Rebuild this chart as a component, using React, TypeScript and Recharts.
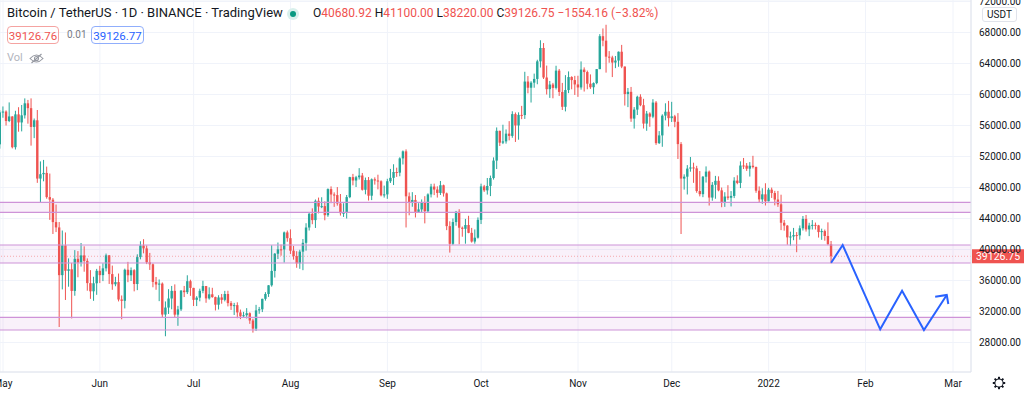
import React from "react";
import {
  ComposedChart,
  Bar,
  Line,
  XAxis,
  YAxis,
  CartesianGrid,
  ReferenceArea,
  ReferenceLine,
} from "recharts";

const UP = "#26a69a";
const DOWN = "#ef5350";
const ZONE = "#ce93d8";
const BLUE = "#2962ff";
const FONT = "-apple-system, BlinkMacSystemFont, 'Trebuchet MS', Roboto, Ubuntu, sans-serif";

// daily candles, 30 Apr 2021 .. 21 Jan 2022 (day index -1 .. 265, 0 = 1 May)
const firstOpen = 53568;
const closes = [
  57694,
  // May
  57800, 56578, 57170, 53200, 57436, 56393, 57314, 58862, 58240, 55816, 56670, 49150, 49716, 49880, 46760, 46430,
  43538, 42849, 36690, 40526, 37252, 37449, 34655, 38796, 38324, 39241, 38529, 35663, 34605, 35641, 37253,
  // Jun
  36693, 37568, 39246, 36829, 35513, 35796, 33552, 33380, 37388, 36675, 37331, 35546, 39020, 40516, 40144,
  38349, 38092, 35819, 35484, 35600, 31608, 32509, 33678, 34663, 31594, 32275, 34700, 34494, 35911, 35045,
  // Jul
  33504, 33786, 34669, 35286, 33690, 34220, 33862, 32875, 33815, 33502, 34259, 33086, 32730, 32820, 31880, 31383,
  31520, 31778, 30839, 29790, 32144, 32287, 33634, 34258, 35381, 37237, 39457, 40019, 40016, 42206, 41461,
  // Aug
  39845, 39147, 38207, 39723, 40862, 42836, 44614, 43792, 46285, 45543, 45595, 44428, 47793, 47096, 47019, 45936,
  44686, 44741, 46762, 49339, 48905, 49321, 49546, 47706, 48960, 46942, 49058, 48902, 48807, 46991, 47112,
  // Sep
  48810, 49246, 49999, 49915, 51756, 52663, 46863, 46048, 46395, 44850, 45173, 46025, 44940, 47111, 48122,
  47737, 47299, 48292, 47241, 43016, 40734, 43543, 44865, 42810, 42670, 43160, 42147, 41026, 41524, 43824,
  // Oct
  48141, 47634, 48200, 49224, 51471, 55315, 53785, 53951, 54949, 54659, 57471, 56005, 57367, 57347, 61672, 60875,
  61528, 62009, 64280, 66002, 62194, 60688, 61286, 60852, 63078, 60328, 58413, 60575, 62253, 61859, 61300,
  // Nov
  60911, 63219, 62896, 61395, 60937, 61470, 63273, 67525, 66947, 64882, 64774, 64122, 64380, 65519, 63606,
  60058, 60344, 56891, 58052, 59707, 58622, 56247, 57541, 57138, 58960, 53726, 54721, 57274, 57776, 56950,
  // Dec
  57184, 56480, 53601, 49152, 49397, 50441, 50588, 50471, 47545, 47140, 49389, 50053, 46702, 48343, 48864, 47632,
  46131, 46834, 46681, 46914, 48889, 48588, 50838, 50821, 50429, 50809, 50640, 47588, 46464, 47120, 46216,
  // Jan
  47722, 47286, 46446, 45832, 43451, 43082, 41566, 41679, 41864, 41822, 42736, 43949, 42591, 43099, 43177, 43113,
  42250, 42375, 41744, 40680.92, 39126.75,
];
const highs = [
  57963,
  58459, 57950, 58981, 57200, 57900, 58360, 58650, 59500, 59300, 59500, 56900, 58000, 51367, 51560, 50700, 49800,
  46640, 45800, 43546, 42451, 42200, 38850, 38270, 39920, 39791, 40841, 40411, 38856, 37338, 36488, 37499,
  37894, 38225, 39476, 39289, 37925, 36480, 36900, 34068, 37534, 38400, 37680, 37463, 39380, 41064, 41330,
  40527, 39559, 38202, 36457, 36137, 35750, 33298, 34881, 35298, 35500, 32730, 34749, 35297, 36675, 36100,
  35057, 33977, 34945, 35967, 35293, 35118, 35059, 33917, 34100, 34262, 34666, 34678, 33340, 33114, 33185, 32249,
  31955, 32435, 31899, 31063, 32858, 32591, 33650, 34500, 35398, 40550, 39542, 40900, 40640, 42316, 42448,
  42599, 40459, 39780, 39969, 41350, 43392, 44700, 45310, 46454, 46700, 46743, 46218, 47886, 48144, 47372, 48053,
  47160, 45969, 47033, 49382, 49757, 49500, 50500, 49875, 49284, 49355, 49166, 49307, 49653, 48928, 48246,
  49125, 50400, 51000, 50558, 51900, 52780, 52920, 47359, 47400, 47033, 45970, 46460, 46880, 47250, 48475,
  48500, 48150, 48843, 48372, 47347, 43639, 44000, 44978, 45200, 42966, 43950, 44350, 42787, 42590, 44141,
  48495, 48336, 49228, 49536, 51886, 55750, 55332, 56100, 55489, 56561, 57839, 57680, 57700, 58532, 62933, 62378,
  61718, 62695, 64486, 67000, 66639, 63732, 61747, 61500, 63710, 63293, 61496, 62499, 62980, 62359, 62405,
  62419, 64270, 63500, 63086, 62595, 61560, 63286, 67789, 68524, 69000, 65600, 65000, 64972, 65550, 66401,
  63617, 60840, 60976, 58372, 59845, 60029, 59444, 57875, 57700, 59398, 59150, 55280, 57445, 58865, 59176,
  59053, 57375, 57600, 53859, 49699, 50891, 51936, 51200, 50797, 50125, 49485, 50724, 50189, 48700, 49500, 49436,
  47995, 47392, 48300, 47537, 49328, 49576, 51375, 51810, 51156, 51280, 52088, 50704, 48139, 47900, 48548,
  47954, 47990, 47570, 47557, 47070, 43816, 43145, 42300, 42786, 42248, 43100, 44322, 44459, 43448, 43800, 43478,
  43176, 42691, 42577, 43505, 41100,
];
const lows = [
  53013,
  57000, 56000, 56435, 53046, 52900, 55200, 55241, 56900, 56235, 53400, 54370, 48600, 46000, 48800, 46555, 43825,
  42001, 42250, 30000, 34850, 33488, 35200, 31111, 34031, 36419, 37800, 37134, 34684, 33632, 33379, 34153,
  35666, 35920, 37170, 35555, 34800, 35258, 33300, 31000, 32396, 35782, 35936, 34600, 34757, 38730, 39506,
  38116, 37365, 35129, 34803, 33336, 31251, 28805, 31683, 32286, 31275, 30151, 32071, 33862, 34252, 34017,
  32712, 32699, 33316, 34357, 33125, 33532, 33777, 32133, 32261, 33004, 33306, 32659, 32202, 31550, 31133, 31020,
  31164, 31108, 30407, 29278, 29482, 31708, 31925, 33401, 33881, 35205, 36383, 38772, 39200, 38313, 41000,
  39422, 38690, 37642, 37508, 37332, 39853, 42450, 43261, 42779, 44660, 45341, 43770, 44218, 45971, 45500, 45660,
  44376, 44203, 43998, 46622, 48280, 48064, 49029, 47600, 47119, 46315, 46375, 48370, 47762, 46853, 46700,
  46537, 48584, 48316, 49370, 49450, 50969, 42843, 44412, 45513, 44132, 44742, 44742, 43370, 44750, 46718,
  47020, 46699, 47035, 46829, 42500, 39600, 40565, 43069, 40675, 41647, 40750, 42098, 40888, 40753, 41410,
  43283, 47430, 47088, 46891, 49022, 50382, 53357, 53600, 53661, 54080, 54415, 53879, 54167, 56818, 56850, 60150,
  58963, 60873, 61322, 63481, 62000, 60000, 59562, 59510, 60650, 59817, 58000, 57820, 60174, 60673, 59945,
  59695, 60624, 60382, 60677, 60721, 60050, 61322, 63273, 66222, 62822, 64100, 62250, 63400, 63576, 63400,
  58574, 58373, 56474, 55600, 57353, 58487, 55610, 55317, 55837, 56938, 53500, 53610, 53256, 56666, 55875,
  56458, 55777, 51680, 42000, 47727, 47100, 50039, 48600, 47320, 46852, 46751, 48638, 45672, 46290, 46547, 47511,
  45456, 45500, 46406, 45558, 46630, 48421, 47920, 50384, 50142, 49412, 50459, 47313, 46096, 45900, 45678,
  46208, 46654, 45696, 45500, 42500, 42430, 40610, 40501, 41200, 39650, 41268, 42450, 42311, 41725, 42578, 42581,
  41540, 41250, 41138, 40553, 38220,
];

const monthTicks = [0, 31, 61, 92, 123, 153, 184, 214, 245, 276, 304];
const monthLabels = ["May", "Jun", "Jul", "Aug", "Sep", "Oct", "Nov", "Dec", "2022", "Feb", "Mar"];
const priceTicks = [28000, 32000, 36000, 40000, 44000, 48000, 52000, 56000, 60000, 64000, 68000, 72000];

// support / resistance zones [low, high]
const zones = [
  [44800, 46090],
  [38258, 40580],
  [29613, 31252],
];

// drawn forecast path + arrow head
const pathDays = [265, 268.7, 280.7, 287.7, 294.7, 302];
const pathPrices = [38297, 40580, 29703, 34684, 29613, 34129];
const arrowDays = [298.3, 302, 302.5];
const arrowPrices = [33910, 34129, 32968];

const candles = closes.map((c, i) => ({
  d: i - 1,
  o: i === 0 ? firstOpen : closes[i - 1],
  h: highs[i],
  l: lows[i],
  c,
  range: [lows[i], highs[i]],
}));
const rows: any[] = [
  ...candles,
  ...pathDays.map((d, i) => ({ d, f: pathPrices[i] })),
  ...arrowDays.map((d, i) => ({ d, a: arrowPrices[i] })),
].sort((p, q) => p.d - q.d);
const last = candles[candles.length - 1];

const Candle = (props: any) => {
  const { x, y, width, height, payload } = props;
  if (x == null || !payload || payload.h == null) return null;
  const { o, h, l, c } = payload;
  const y0 = Math.min(y, y + height);
  const hh = Math.abs(height);
  const k = h === l ? 0 : hh / (h - l);
  const top = y0 + (h - Math.max(o, c)) * k;
  const bot = y0 + (h - Math.min(o, c)) * k;
  const cx = x + width / 2;
  const col = c >= o ? UP : DOWN;
  return (
    <g>
      <line x1={cx} x2={cx} y1={y0} y2={y0 + hh} stroke={col} strokeWidth={1} />
      <rect x={cx - 1.2} y={top} width={2.4} height={Math.max(bot - top, 1)} fill={col} />
    </g>
  );
};

const PriceTag = (props: any) => {
  const vb = props.viewBox;
  if (!vb) return null;
  const x = vb.x + vb.width + 1;
  return (
    <g>
      <rect x={x} y={vb.y - 7} width={53} height={14} fill={DOWN} />
      <text x={x + 26} y={vb.y + 3.6} textAnchor="middle" fill="#fff" fontSize={10.5} fontFamily={FONT}>
        {last.c.toFixed(2)}
      </text>
    </g>
  );
};

const EyeOff = () => (
  <svg width="15" height="11" viewBox="0 0 15 11" style={{ position: "absolute", left: 29, top: 53 }}>
    <path d="M1 5.5 Q7.5 -1.5 14 5.5 Q7.5 12.5 1 5.5 Z" fill="none" stroke="#9598a1" strokeWidth="1.1" />
    <circle cx="7.5" cy="5.5" r="2" fill="none" stroke="#9598a1" strokeWidth="1.1" />
    <line x1="2.5" y1="10" x2="12.5" y2="1" stroke="#9598a1" strokeWidth="1.1" />
  </svg>
);

const Gear = () => (
  <svg width="14" height="14" viewBox="0 0 14 14" style={{ position: "absolute", left: 992, top: 376 }}>
    {[0, 45, 90, 135].map((r) => (
      <rect key={r} x="6" y="0.8" width="2" height="12.4" fill="#131722" transform={`rotate(${r} 7 7)`} />
    ))}
    <circle cx="7" cy="7" r="4.6" fill="#131722" />
    <circle cx="7" cy="7" r="3.6" fill="#fff" />
  </svg>
);

export default function App() {
  return (
    <div style={{ position: "absolute", left: 0, top: 0, width: 1024, height: 394, background: "#fff", fontFamily: FONT, overflow: "hidden" }}>
      <ComposedChart width={1024} height={394} data={rows} margin={{ top: 0, right: 0, bottom: 0, left: 0 }}>
        <CartesianGrid stroke="#f0f3fa" />
        <XAxis
          dataKey="d"
          type="number"
          domain={[-0.96, 309.76]}
          allowDataOverflow
          ticks={monthTicks}
          tickFormatter={(v: number) => monthLabels[monthTicks.indexOf(v)] ?? ""}
          interval={0}
          height={22}
          axisLine={{ stroke: "#e0e3eb" }}
          tickLine={false}
          tick={{ fill: "#131722", fontSize: 10, fontFamily: FONT }}
        />
        <YAxis
          orientation="right"
          width={53}
          type="number"
          domain={[24194, 72194]}
          allowDataOverflow
          ticks={priceTicks}
          interval={0}
          tickFormatter={(v: number) => v.toFixed(2)}
          axisLine={{ stroke: "#e0e3eb" }}
          tickLine={false}
          tick={{ fill: "#131722", fontSize: 10, fontFamily: FONT }}
        />
        {zones.map(([lo, hi]) => (
          <ReferenceArea key={`a${lo}`} y1={lo} y2={hi} fill={ZONE} fillOpacity={0.13} stroke="none" />
        ))}
        {zones.map(([lo, hi]) => [
          <ReferenceLine key={`l${lo}`} y={lo} stroke={ZONE} strokeWidth={1.2} />,
          <ReferenceLine key={`h${hi}`} y={hi} stroke={ZONE} strokeWidth={1.2} />,
        ])}
        <ReferenceLine y={last.c} stroke={DOWN} strokeOpacity={0.45} strokeDasharray="1 2" label={PriceTag} />
        <Bar dataKey="range" barSize={3} shape={Candle} isAnimationActive={false} />
        <Line dataKey="f" type="linear" connectNulls stroke={BLUE} strokeWidth={2} dot={false} activeDot={false} isAnimationActive={false} />
        <Line dataKey="a" type="linear" connectNulls stroke={BLUE} strokeWidth={2} dot={false} activeDot={false} isAnimationActive={false} />
      </ComposedChart>

      {/* header */}
      <div style={{ position: "absolute", left: 7, top: 5, fontSize: 13, color: "#131722", whiteSpace: "nowrap" }}>
        Bitcoin / TetherUS · 1D · BINANCE · TradingView
      </div>
      <div style={{ position: "absolute", left: 287, top: 8, width: 12, height: 12, borderRadius: 6, background: "#d9f0ec" }}>
        <div style={{ position: "absolute", left: 3, top: 3, width: 6, height: 6, borderRadius: 3, background: "#089981" }} />
      </div>
      <div style={{ position: "absolute", left: 313, top: 6, fontSize: 12, color: DOWN, whiteSpace: "nowrap" }}>
        <span style={{ color: "#131722" }}>O</span>40680.92 <span style={{ color: "#131722" }}>H</span>41100.00{" "}
        <span style={{ color: "#131722" }}>L</span>38220.00 <span style={{ color: "#131722" }}>C</span>39126.75 −1554.16 (−3.82%)
      </div>
      <div style={{ position: "absolute", left: 7, top: 26, width: 52, height: 18, border: "1px solid #f5a3a1", borderRadius: 4, color: DOWN, fontSize: 11.5, lineHeight: "18px", textAlign: "center", boxSizing: "border-box" }}>
        39126.76
      </div>
      <div style={{ position: "absolute", left: 67, top: 29, fontSize: 10, color: "#787b86" }}>0.01</div>
      <div style={{ position: "absolute", left: 91, top: 26, width: 53, height: 18, border: "1px solid #90aefc", borderRadius: 4, color: BLUE, fontSize: 11.5, lineHeight: "18px", textAlign: "center", boxSizing: "border-box" }}>
        39126.77
      </div>
      <div style={{ position: "absolute", left: 7, top: 51, fontSize: 11, color: "#b2b5be" }}>Vol</div>
      <EyeOff />

      {/* price axis unit */}
      <div style={{ position: "absolute", left: 982, top: 7, width: 35, height: 15, border: "1px solid #e0e3eb", borderRadius: 3, background: "#fff", fontSize: 10, lineHeight: "13px", textAlign: "center", color: "#131722", boxSizing: "border-box" }}>
        USDT
      </div>
      <Gear />
    </div>
  );
}
